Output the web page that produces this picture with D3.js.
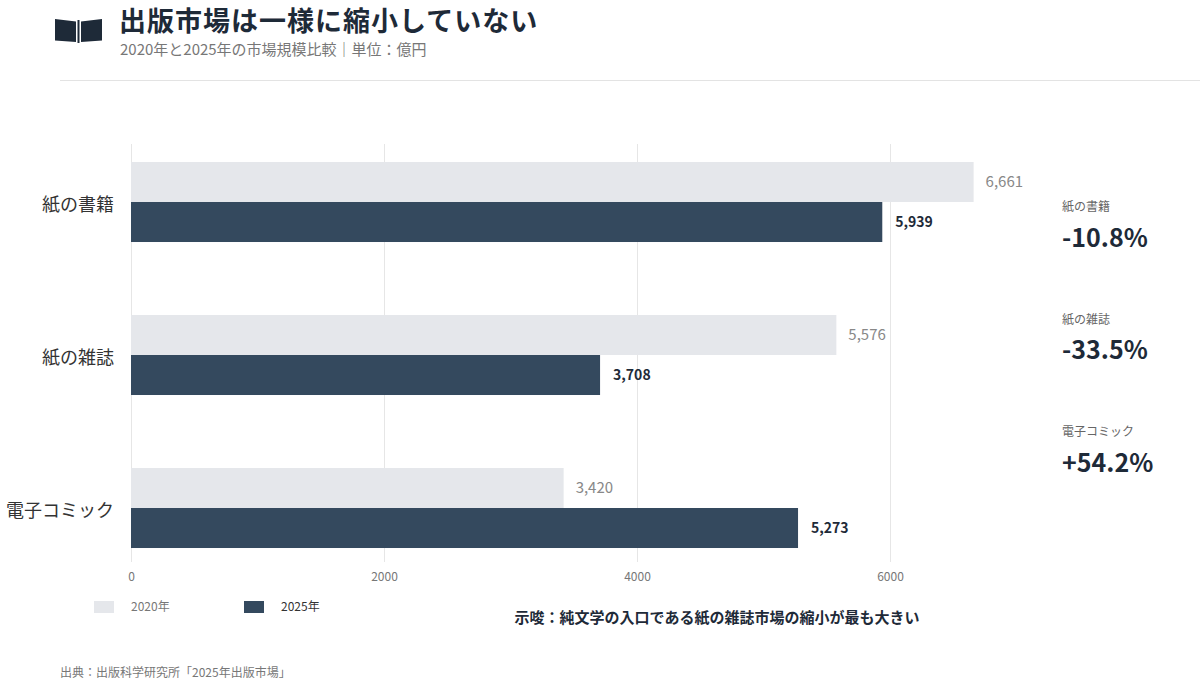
<!DOCTYPE html>
<html lang="ja">
<head>
<meta charset="utf-8">
<script src="https://cdn.jsdelivr.net/npm/d3@7"></script>
<style>
  html, body { margin: 0; padding: 0; background: #fff; }
  body { font-family: "Noto Sans CJK JP", "Noto Sans", sans-serif; }
</style>
</head>
<body>
<div id="chart"></div>
<script>
// data
const categories = ["紙の書籍", "紙の雑誌", "電子コミック"]
const values2020 = [6661, 5576, 3420]
const values2025 = [5939, 3708, 5273]
const seriesNames = ["2020年", "2025年"]
const xTicks = [0, 2000, 4000, 6000]
const changeLabels = ["-10.8%", "-33.5%", "+54.2%"]

const W = 1200, H = 688
const C_DARK = "#34495e"
const C_LIGHT = "#e5e7eb"
const C_TEXT = "#1e2a38"

const svg = d3.select("#chart").append("svg")
	.attr("width", W)
	.attr("height", H)

// header
const icon = svg.append("g").attr("fill", "#1e2a38")
icon.append("path").attr("d", "M55,19 L76,21.5 L76,42 L55,40.5 Z")
icon.append("path").attr("d", "M102,19 L81,21.5 L81,42 L102,40.5 Z")
icon.append("rect").attr("x", 77.5).attr("y", 20).attr("width", 2).attr("height", 23)

svg.append("text")
	.attr("x", 119).attr("y", 31)
	.attr("font-size", 27).attr("font-weight", 700)
	.attr("letter-spacing", 1)
	.attr("fill", C_TEXT)
	.text("出版市場は一様に縮小していない")

svg.append("text")
	.attr("x", 120).attr("y", 55)
	.attr("font-size", 15).attr("fill", "#777")
	.text("2020年と2025年の市場規模比較｜単位：億円")

svg.append("line")
	.attr("x1", 60).attr("x2", 1200).attr("y1", 80.5).attr("y2", 80.5)
	.attr("stroke", "#e3e3e3")

// scales
const PLOT = { LEFT: 131, RIGHT: 890, TOP: 144, BOTTOM: 562 }

const x = d3.scaleLinear()
	.domain([0, 6000])
	.range([PLOT.LEFT, PLOT.RIGHT])

const y = d3.scaleBand()
	.domain(categories)
	.range([125.5, 584.5])
	.paddingInner(0.477)
	.paddingOuter(0.2385)

const ySub = d3.scaleBand()
	.domain(seriesNames)
	.range([0, y.bandwidth()])

// grid
svg.append("g").selectAll("line")
	.data(xTicks)
	.join("line")
		.attr("x1", d => Math.round(x(d)) + 0.5)
		.attr("x2", d => Math.round(x(d)) + 0.5)
		.attr("y1", PLOT.TOP)
		.attr("y2", PLOT.BOTTOM)
		.attr("stroke", "#e6e6e6")

// x axis
const xAxis = svg.append("g")
	.attr("transform", `translate(0, ${PLOT.BOTTOM})`)
	.call(d3.axisBottom(x).tickValues(xTicks).tickSize(0).tickPadding(10).tickFormat(d3.format("d")))
xAxis.select(".domain").remove()
xAxis.selectAll("text")
	.attr("font-family", "Noto Sans CJK JP, sans-serif")
	.attr("font-size", 12)
	.attr("fill", "#777")

// y labels
svg.append("g").selectAll("text")
	.data(categories)
	.join("text")
		.attr("x", 114)
		.attr("y", d => y(d) + y.bandwidth() / 2 + 3)
		.attr("dy", "0.35em")
		.attr("text-anchor", "end")
		.attr("font-size", 18)
		.attr("fill", "#333")
		.text(d => d)

// bars
const rows = categories.map((c, i) => ({ cat: c, v2020: values2020[i], v2025: values2025[i] }))

const groups = svg.append("g").selectAll("g")
	.data(rows)
	.join("g")
		.attr("transform", d => `translate(0, ${y(d.cat)})`)

groups.append("rect")
	.attr("x", x(0))
	.attr("y", ySub(seriesNames[0]))
	.attr("width", d => x(d.v2020) - x(0))
	.attr("height", ySub.bandwidth())
	.attr("fill", C_LIGHT)

groups.append("rect")
	.attr("x", x(0))
	.attr("y", ySub(seriesNames[1]))
	.attr("width", d => x(d.v2025) - x(0))
	.attr("height", ySub.bandwidth())
	.attr("fill", C_DARK)

groups.append("text")
	.attr("x", d => x(d.v2020) + 12)
	.attr("y", ySub(seriesNames[0]) + ySub.bandwidth() / 2)
	.attr("dy", "0.35em")
	.attr("font-size", 15)
	.attr("fill", "#888")
	.text(d => d3.format(",")(d.v2020))

groups.append("text")
	.attr("x", d => x(d.v2025) + 13)
	.attr("y", ySub(seriesNames[1]) + ySub.bandwidth() / 2)
	.attr("dy", "0.35em")
	.attr("font-size", 14)
	.attr("font-weight", 700)
	.attr("fill", C_TEXT)
	.text(d => d3.format(",")(d.v2025))

// right panel: change rates
const panel = svg.append("g").selectAll("g")
	.data(categories)
	.join("g")
		.attr("transform", (d, i) => `translate(1062, ${207 + i * 112.5})`)

panel.append("text")
	.attr("dy", "0.35em")
	.attr("font-size", 12)
	.attr("fill", "#666")
	.text(d => d)

panel.append("text")
	.attr("y", 31)
	.attr("dy", "0.35em")
	.attr("font-size", 25)
	.attr("font-weight", 700)
	.attr("fill", C_TEXT)
	.text((d, i) => changeLabels[i])

// legend
const legend = svg.append("g").selectAll("g")
	.data(seriesNames)
	.join("g")
		.attr("transform", (d, i) => `translate(${94 + i * 150}, 601)`)

legend.append("rect")
	.attr("width", 20).attr("height", 12)
	.attr("fill", (d, i) => i === 0 ? C_LIGHT : C_DARK)

legend.append("text")
	.attr("x", 37).attr("y", 6)
	.attr("dy", "0.35em")
	.attr("font-size", 12)
	.attr("fill", (d, i) => i === 0 ? "#777" : "#333")
	.text(d => d)

// insight
svg.append("text")
	.attr("x", 717).attr("y", 618)
	.attr("dy", "0.35em")
	.attr("text-anchor", "middle")
	.attr("font-size", 15)
	.attr("font-weight", 700)
	.attr("fill", C_TEXT)
	.text("示唆：純文学の入口である紙の雑誌市場の縮小が最も大きい")

// source
svg.append("text")
	.attr("x", 60).attr("y", 673)
	.attr("dy", "0.35em")
	.attr("font-size", 12)
	.attr("fill", "#777")
	.text("出典：出版科学研究所「2025年出版市場」")
</script>
</body>
</html>
